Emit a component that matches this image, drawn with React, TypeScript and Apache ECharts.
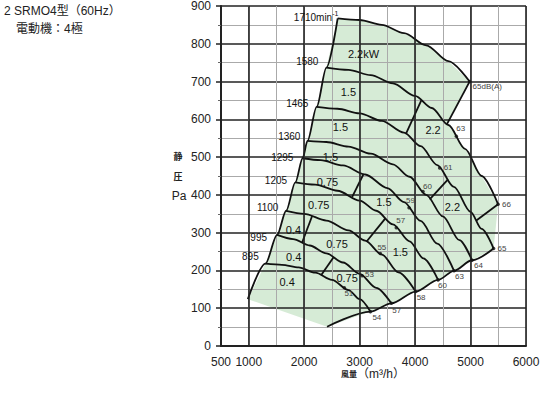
import React, { useEffect, useRef } from "react";
import * as echarts from "echarts";

const FONT = "'Liberation Sans', 'Noto Sans CJK JP', sans-serif";

// axis ticks
const xLabelValues = [500, 1000, 2000, 3000, 4000, 5000, 6000];
const xMajorLines = [1000, 2000, 3000, 4000, 5000, 6000];

// fan curves [airflow m3/h, static pressure Pa]
const curve1710 = [[2604, 867], [3000, 863], [3400, 850], [3800, 828], [4200, 796], [4600, 754], [4983, 700]];
const curve1580 = [[2401, 737], [2800, 731], [3200, 717], [3600, 695], [4000, 662], [4300, 630], [4600, 585], [4900, 522], [5200, 450], [5497, 375]];
const curve1465 = [[2225, 633], [2600, 628], [3000, 616], [3400, 596], [3800, 565], [4100, 529], [4400, 479], [4700, 421], [5000, 355], [5200, 310], [5416, 258]];
const curve1360 = [[2060, 543], [2400, 540], [2800, 528], [3200, 509], [3600, 481], [3900, 448], [4200, 400], [4500, 343], [4800, 280], [5027, 227]];
const curve1295 = [[1972, 497], [2300, 492], [2700, 478], [3100, 454], [3500, 418], [3800, 381], [4100, 331], [4400, 271], [4702, 199]];
const curve1205 = [[1840, 433], [2200, 427], [2600, 411], [3000, 385], [3300, 358], [3600, 322], [3900, 277], [4150, 232], [4414, 175]];
const curve1100 = [[1675, 358], [2000, 350], [2400, 332], [2800, 306], [3100, 279], [3400, 242], [3700, 195], [4010, 144]];
const curve995 = [[1512, 294], [1800, 283], [2100, 266], [2400, 245], [2700, 221], [3000, 191], [3300, 154], [3572, 113]];
const curve895 = [[1301, 218], [1600, 215], [1900, 208], [2200, 194], [2500, 175], [2800, 148], [3000, 124], [3194, 91]];

// boundaries
const surgeLine = [[984, 124], [1301, 218], [1512, 294], [1675, 358], [1840, 433], [1972, 497], [2060, 543], [2225, 633], [2401, 737], [2604, 867]];
const bottomLine = [[2413, 51], [3194, 91], [3572, 113], [4010, 144], [4414, 175], [4702, 199], [5027, 227], [5416, 258]];
const endLine1710 = [[4983, 700], [4577, 588]];
const endLine1580 = [[5497, 375], [5104, 332]];

// motor power dividers
const dividers = [
  [[4112, 650], [3832, 561]],
  [[4594, 441], [4263, 388]],
  [[3073, 456], [2864, 394]],
  [[3464, 338], [3122, 276]],
  [[2143, 344], [1963, 274]],
  [[2530, 235], [2305, 187]],
];

// motor power labels
const kwText = ["2.2kW", "1.5", "2.2", "1.5", "2.2", "1.5", "0.75", "1.5", "0.75", "1.5", "0.4", "0.75", "0.4", "0.75", "0.4"];
const kwAt = [[3070, 774], [2797, 672], [4324, 572], [2653, 580], [4672, 368], [2473, 499], [2419, 434], [3437, 381], [2262, 373], [3734, 250], [1806, 307], [2593, 270], [1811, 236], [2774, 179], [1692, 170]];

// speed labels (min-1)
const rpmText = ["1710min", "1580", "1465", "1360", "1295", "1205", "1100", "995", "895"];
const rpmAt = [[2617, 873], [2256, 752], [2076, 643], [1932, 554], [1806, 500], [1692, 439], [1535, 366], [1330, 287], [1180, 238]];

// noise points dB(A)
const dbText = ["51", "53", "55", "57", "59", "60", "61", "63", "65dB(A)", "66", "65", "64", "63", "60", "58", "57", "54"];
const dbAt = [[2725, 154], [3044, 186], [3374, 245], [3661, 313], [3891, 366], [4143, 409], [4443, 471], [4744, 555], [4983, 700], [5497, 375], [5416, 258], [5027, 227], [4702, 199], [4414, 175], [4010, 144], [3572, 113], [3194, 91]];
const dbLabelOffset = [[0, 6], [3, -1], [-3, -6], [0, -7], [-3, -7], [0, -5], [4, -1], [0, -8], [3, 5], [4, 0], [4, 0], [2, 5], [1, 6], [0, 6], [1, 6], [1, 7], [2, 6]];

const greenArea = [
  ...surgeLine,
  ...curve1710.slice(1),
  endLine1710[1],
  ...curve1580.filter((p) => p[0] > endLine1710[1][0]),
  bottomLine[bottomLine.length - 1],
  ...bottomLine.slice(0, -1).reverse(),
];

const curves = [curve1710, curve1580, curve1465, curve1360, curve1295, curve1205, curve1100, curve995, curve895];

function lineSeries(data: number[][], smooth = 0.3) {
  return {
    type: "line",
    data,
    showSymbol: false,
    smooth,
    smoothMonotone: "x",
    silent: true,
    lineStyle: { color: "#111", width: 1.8 },
    z: 4,
  };
}

function textSeries(at: number[][], render: (i: number, x: number, y: number) => any) {
  return {
    type: "custom",
    silent: true,
    clip: false,
    z: 6,
    data: at,
    renderItem: (params: any, api: any) => {
      const c = api.coord([api.value(0), api.value(1)]);
      return render(params.dataIndex, c[0], c[1]);
    },
  };
}

export default function App() {
  const ref = useRef<HTMLDivElement>(null);
  useEffect(() => {
    const chart = echarts.init(ref.current!, null, { renderer: "svg" });
    const option: any = {
      animation: false,
      textStyle: { fontFamily: FONT },
      grid: { left: 221, right: 24, top: 6, bottom: 50 },
      xAxis: {
        type: "value",
        min: 500,
        max: 6000,
        interval: 500,
        axisLine: { show: true, lineStyle: { color: "#222", width: 2 } },
        axisTick: { show: false },
        axisLabel: {
          color: "#222",
          fontSize: 12,
          fontFamily: FONT,
          margin: 10,
          formatter: (v: number) => (xLabelValues.includes(v) ? String(v) : ""),
        },
        splitLine: { show: true, lineStyle: { color: "#aaa", width: 1 } },
      },
      yAxis: {
        type: "value",
        min: 0,
        max: 900,
        interval: 100,
        axisLine: { show: true, lineStyle: { color: "#222", width: 2 } },
        axisTick: { show: true, length: 5, lineStyle: { color: "#222", width: 1.5 } },
        minorTick: { show: true, splitNumber: 2, length: 3, lineStyle: { color: "#666" } },
        axisLabel: { color: "#222", fontSize: 12, fontFamily: FONT, margin: 10 },
        splitLine: { show: true, lineStyle: { color: "#222", width: 1.6 } },
        minorSplitLine: { show: true, lineStyle: { color: "#aaa", width: 1 } },
      },
      graphic: [
        { type: "text", left: 4, top: 5, style: { text: "2 SRMO4型（60Hz）", font: `12px ${FONT}`, fill: "#222" } },
        { type: "text", left: 16, top: 23, style: { text: "電動機：4極", font: `12px ${FONT}`, fill: "#222" } },
        { type: "text", x: 178, y: 157, style: { text: "静", font: `bold 9px ${FONT}`, fill: "#222", align: "center", verticalAlign: "middle" } },
        { type: "text", x: 178, y: 177, style: { text: "圧", font: `bold 9px ${FONT}`, fill: "#222", align: "center", verticalAlign: "middle" } },
        { type: "text", x: 179, y: 196, style: { text: "Pa", font: `12px ${FONT}`, fill: "#222", align: "center", verticalAlign: "middle" } },
        { type: "text", x: 341, y: 374, style: { text: "風量", font: `bold 8px ${FONT}`, fill: "#222", verticalAlign: "middle" } },
        { type: "text", x: 357, y: 374, style: { text: "（m³/h）", font: `12px ${FONT}`, fill: "#222", verticalAlign: "middle" } },
      ],
      series: [
        {
          type: "custom",
          silent: true,
          clip: false,
          z: -1,
          data: [[3000, 400]],
          renderItem: (_p: any, api: any) => ({
            type: "polygon",
            shape: { points: greenArea.map((p) => api.coord(p)) },
            style: { fill: "#d6ebd6" },
          }),
        },
        {
          type: "line",
          data: [],
          silent: true,
          z: 3,
          markLine: {
            silent: true,
            symbol: ["none", "none"],
            label: { show: false },
            lineStyle: { color: "#222", width: 1.6, type: "solid" },
            data: xMajorLines.map((v) => ({ xAxis: v })),
          },
        },
        ...curves.map((c) => lineSeries(c)),
        lineSeries(surgeLine),
        lineSeries(bottomLine),
        lineSeries(endLine1710, 0),
        lineSeries(endLine1580, 0),
        ...dividers.map((d) => lineSeries(d, 0)),
        {
          type: "scatter",
          data: dbAt,
          symbol: "circle",
          symbolSize: 3.5,
          itemStyle: { color: "#111" },
          silent: true,
          z: 5,
        },
        textSeries(kwAt, (i, x, y) => ({
          type: "text",
          x,
          y,
          style: { text: kwText[i], font: `11px ${FONT}`, fill: "#111", align: "center", verticalAlign: "middle" },
        })),
        textSeries(rpmAt, (i, x, y) =>
          i === 0
            ? {
                type: "text",
                x,
                y,
                style: {
                  text: "{a|1710min}{b|-1}",
                  align: "right",
                  verticalAlign: "middle",
                  rich: {
                    a: { fontSize: 10, fontFamily: FONT, fill: "#111", lineHeight: 12, verticalAlign: "bottom" },
                    b: { fontSize: 7, fontFamily: FONT, fill: "#111", lineHeight: 12, verticalAlign: "top" },
                  },
                },
              }
            : {
                type: "text",
                x,
                y,
                style: { text: rpmText[i], font: `10px ${FONT}`, fill: "#111", align: "right", verticalAlign: "middle" },
              }
        ),
        textSeries(dbAt, (i, x, y) => ({
          type: "text",
          x: x + dbLabelOffset[i][0],
          y: y + dbLabelOffset[i][1],
          style: { text: dbText[i], font: `8px ${FONT}`, fill: "#444", align: "left", verticalAlign: "middle" },
        })),
      ],
    };
    chart.setOption(option);
    return () => chart.dispose();
  }, []);
  return (
    <div
      ref={ref}
      style={{ position: "fixed", left: 0, top: 0, width: 550, height: 396, background: "#fff" }}
    />
  );
}
